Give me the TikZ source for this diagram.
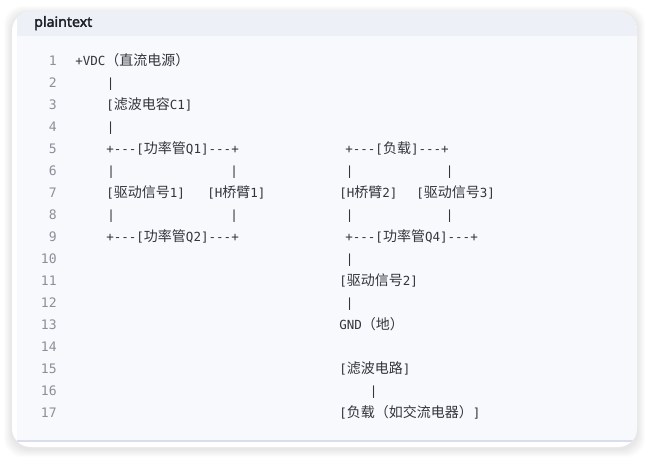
\documentclass[tikz,border=0pt]{standalone}
\usepackage{fontspec}
\usepackage{xcolor}
\usepackage{tikz}
\setmainfont{Noto Sans}[AutoFakeBold=2.2]
\setmonofont{DejaVu Sans Mono}
\newfontfamily\zhfont{Noto Sans CJK SC}
\newcommand\zh[1]{{\fontsize{10.5}{12}\zhfont #1}}

\definecolor{codetext}{HTML}{33353C}
\definecolor{lnumtext}{HTML}{8A8F99}
\definecolor{headbg}{HTML}{EDF0F7}
\definecolor{bodybg}{HTML}{F8F9FD}
\definecolor{rulecol}{HTML}{DCDCEF}
\definecolor{titletext}{HTML}{1D2129}

\tikzset{
	code/.style={anchor=base west,inner sep=0pt,text=codetext,font=\fontsize{9.4}{11}\ttfamily},
	lnum/.style={anchor=base east,inner sep=0pt,text=lnumtext,font=\fontsize{9.8}{11}\ttfamily},
}

\begin{document}
\begin{tikzpicture}[x=0.75pt,y=-0.75pt]
		\useasboundingbox (0,0) rectangle (649,459);

		% card with soft shadow
		\foreach \s in {1,...,8}
			\fill[black,opacity=0.012,rounded corners=14] (12-\s,12-\s+2) rectangle (637+\s,447+\s+2);
		\fill[white,rounded corners=14] (12,12) rectangle (637,447);
		\begin{scope}
			\clip[rounded corners=14] (12,12) rectangle (637,447);
			\fill[bodybg] (17,12) rectangle (637,441);
			\fill[headbg] (17,12) rectangle (637,36);
			\draw[rulecol,line width=1.2pt] (17,441) -- (637,441);
		\end{scope}

		\node[anchor=base west,inner sep=0pt,text=titletext,font=\fontsize{10.6}{12}\selectfont\bfseries] (title) at (34,26.8) {plaintext};

		% line numbers
		\foreach \n in {1,...,17}
			\node[lnum] (ln\n) at (57,{65.6+22*(\n-1)}) {\n};

		% left branch
		\node[code] (vdc) at (75,65.6) {+VDC\zh{（直流电源）}};
		\node[code] (bar2) at (106.5,87.6) {|};
		\node[code] (c1) at (106,109.6) {[\zh{滤波电容}C1]};
		\node[code] (bar4) at (106.5,131.6) {|};
		\node[code] (q1) at (106,153.6) {+---[\zh{功率管}Q1]---+};
		\node[code] (drv1) at (106,197.6) {[\zh{驱动信号}1]};
		\node[code] (harm1) at (207,197.6) {[H\zh{桥臂}1]};
		\node[code] (q2) at (106,241.6) {+---[\zh{功率管}Q2]---+};

		% right branch
		\node[code] (load) at (345,153.6) {+---[\zh{负载}]---+};
		\node[code] (harm2) at (339,197.6) {[H\zh{桥臂}2]};
		\node[code] (drv3) at (416,197.6) {[\zh{驱动信号}3]};
		\node[code] (q4) at (345,241.6) {+---[\zh{功率管}Q4]---+};
		\node[code] (bar10) at (345.5,263.6) {|};
		\node[code] (drv2) at (339,285.6) {[\zh{驱动信号}2]};
		\node[code] (bar12) at (345.5,307.6) {|};
		\node[code] (gnd) at (339,329.6) {GND\zh{（地）}};
		\node[code] (filt) at (339,373.6) {[\zh{滤波电路}]};
		\node[code] (bar16) at (369.5,395.6) {|};
		\node[code] (acload) at (339,417.6) {[\zh{负载（如交流电器）}]};

		% vertical bars of lines 6 and 8
		\foreach \r/\y in {6/175.6,8/219.6} {
			\node[code] (la\r) at (107,\y) {|};
			\node[code] (lb\r) at (230,\y) {|};
			\node[code] (ra\r) at (345.5,\y) {|};
			\node[code] (rb\r) at (445.5,\y) {|};
		}
		\end{tikzpicture}
\end{document}
